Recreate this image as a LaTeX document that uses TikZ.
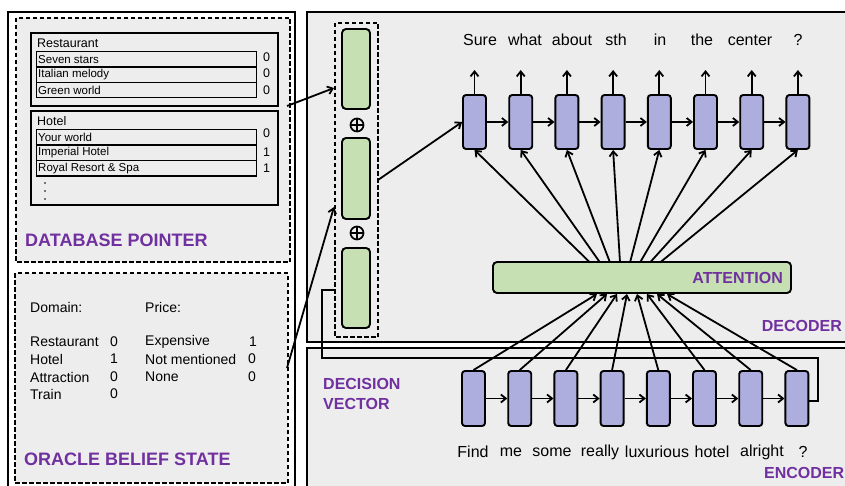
\documentclass[tikz,border=0pt]{standalone}
\usepackage{fontspec}
\setmainfont{Liberation Sans}
\usetikzlibrary{arrows.meta,calc}
\definecolor{bg}{HTML}{EDEDED}
\definecolor{cellc}{HTML}{AEAEDE}
\definecolor{grn}{HTML}{C6E0B4}
\definecolor{purp}{HTML}{7030A0}
\tikzset{
  panel/.style={draw, line width=2.2pt, fill=bg},
  dbox/.style={draw, line width=1.5pt, dash pattern=on 4.5pt off 2.5pt, fill=bg},
  cell/.style={draw, rounded corners=3pt, fill=cellc, line width=1.9pt, minimum width=23pt, minimum height=54pt, inner sep=0pt},
  gcell/.style={draw, rounded corners=4pt, fill=grn, line width=1.9pt, inner sep=0pt},
  arr/.style={-{Straight Barb[length=5pt,width=8pt]}, line width=1.8pt},
  plain/.style={line width=1.8pt},
  lbl/.style={text=purp, font=\bfseries\fontsize{16}{16}\selectfont, inner sep=0pt},
  biglbl/.style={text=purp, font=\bfseries\fontsize{18}{18}\selectfont, inner sep=0pt},
  word/.style={font=\fontsize{16}{16}\selectfont, inner sep=0pt},
  otxt/.style={font=\fontsize{14}{14}\selectfont, inner sep=0pt, anchor=west},
  hdr/.style={font=\fontsize{12.5}{12.5}\selectfont, inner sep=0pt, anchor=west},
  row/.style={draw, line width=1.3pt, minimum width=220pt, minimum height=15.3pt, inner sep=0pt, anchor=north west},
  rtxt/.style={font=\fontsize{11.5}{11.5}\selectfont, inner sep=0pt, anchor=west},
  box/.style={draw, line width=1.3pt},
  plus/.style={circle, draw, line width=1.7pt, minimum size=13pt, inner sep=0pt,
    path picture={\draw[line width=1.7pt] (path picture bounding box.north) -- (path picture bounding box.south)
      (path picture bounding box.west) -- (path picture bounding box.east);}},
}
\begin{document}
\begin{tikzpicture}[x=1pt,y=-1pt]
\useasboundingbox (0,0) rectangle (845,486);
\clip (0,0) rectangle (845,486);
\fill[white] (0,0) rectangle (845,486);
% ---------- panels ----------
\draw[panel, fill=white] (8,12) rectangle (295,500);
\draw[dbox] (16,18) rectangle (290,262);
\draw[dbox] (15,273) rectangle (288,483);
\draw[panel] (307,12) rectangle (860,342);
\draw[panel] (307,348) rectangle (860,500);
% ---------- database pointer ----------
\draw[box] (31,33) rectangle (278,106);
\node[hdr] (hrest) at (37,43) {Restaurant};
\node[row] (r1) at (36,51) {};
\node[row] (r2) at (36,66.3) {};
\node[row] (r3) at (36,81.6) {};
\node[rtxt] at ([xshift=2pt]r1.west) {Seven stars};
\node[rtxt] at ([xshift=2pt]r2.west) {Italian melody};
\node[rtxt] at ([xshift=2pt]r3.west) {Green world};
\node[hdr] at (263,57) {0};
\node[hdr] at (263,73) {0};
\node[hdr] at (263,90) {0};
\draw[box] (31,111) rectangle (278,205);
\node[hdr] (hhot) at (37,121) {Hotel};
\node[row] (h1) at (36,129) {};
\node[row] (h2) at (36,144.5) {};
\node[row] (h3) at (36,160) {};
\node[rtxt] at ([xshift=2pt]h1.west) {Your world};
\node[rtxt] at ([xshift=2pt]h2.west) {Imperial Hotel};
\node[rtxt] at ([xshift=2pt]h3.west) {Royal Resort \& Spa};
\node[hdr] at (263,133) {0};
\node[hdr] at (263,152) {1};
\node[hdr] at (263,168) {1};
\foreach \yy in {183,191,199} \fill (45,\yy) circle (0.8pt);
\node[biglbl, anchor=west] (dblbl) at (25,240) {DATABASE POINTER};
% ---------- oracle belief state ----------
\node[otxt] at (30,307) {Domain:};
\node[otxt] at (145,307) {Price:};
\node[otxt] at (30,342) {Restaurant};
\node[otxt] at (30,359) {Hotel};
\node[otxt] at (30,377) {Attraction};
\node[otxt] at (30,394) {Train};
\node[otxt] at (110,342) {0};
\node[otxt] at (110,359) {1};
\node[otxt] at (110,377) {0};
\node[otxt] at (110,394) {0};
\node[otxt] at (145,342) {Expensive};
\node[otxt] at (145,359) {Not mentioned};
\node[otxt] at (145,377) {None};
\node[otxt] at (249,342) {1};
\node[otxt] at (248,359) {0};
\node[otxt] at (248,377) {0};
\node[biglbl, anchor=west] (oblbl) at (24,459) {ORACLE BELIEF STATE};
% ---------- decision vector ----------
\draw[dbox] (335,23) rectangle (378,337);
\node[gcell, minimum width=28pt, minimum height=80pt] (g1) at (356,69) {};
\node[gcell, minimum width=28pt, minimum height=81pt] (g2) at (356,178.5) {};
\node[gcell, minimum width=28pt, minimum height=80pt] (g3) at (356,288) {};
\node[plus] (p1) at (357,125) {};
\node[plus] (p2) at (357,233) {};
\node[lbl, anchor=west] (dec1) at (323,384) {DECISION};
\node[lbl, anchor=west] (dec2) at (323,404) {VECTOR};
% ---------- decoder ----------
\foreach \i in {1,...,8} {
  \node[cell] (d\i) at ({474.5+46.2*(\i-1)},122) {};
  \coordinate (o\i) at ({474.5+46.2*(\i-1)},70);
  \draw[arr] (d\i.north) -- (o\i);
}
\node[word] (w1) at (480,40) {Sure};
\node[word] (w2) at (525,40) {what};
\node[word] (w3) at (572,40) {about};
\node[word] (w4) at (616,40) {sth};
\node[word] (w5) at (660,40) {in};
\node[word] (w6) at (702,40) {the};
\node[word] (w7) at (750,40) {center};
\node[word] (w8) at (798,40) {?};
\foreach \i [evaluate=\i as \j using int(\i+1)] in {1,...,7}
  \draw[arr] (d\i.east) -- (d\j.west);
% ---------- attention ----------
\node[gcell, minimum width=298pt, minimum height=31pt] (att) at (642,277.5) {};
\node[lbl, anchor=east] (attl) at (783,278) {ATTENTION};
\foreach \i in {1,...,8} {
  \coordinate (at\i) at ({590+10*(\i-1)},262.5);
  \draw[arr] (at\i) -- (d\i.south);
}
\node[lbl, anchor=east] (decl) at (842,326) {DECODER};
% ---------- encoder ----------
\foreach \i in {1,...,8} {
  \node[cell, minimum height=55pt] (e\i) at ({473.5+46.2*(\i-1)},398.5) {};
  \coordinate (ab\i) at ({597+10*(\i-1)},294);
  \draw[arr] (e\i.north) -- (ab\i);
}
\foreach \i [evaluate=\i as \j using int(\i+1)] in {1,...,7}
  \draw[arr] (e\i.east) -- (e\j.west);
\node[word] (f1) at (473,452) {Find};
\node[word] (f2) at (511,452) {me};
\node[word] (f3) at (552,452) {some};
\node[word] (f4) at (600,452) {really};
\node[word] (f5) at (657,452) {luxurious};
\node[word] (f6) at (712,452) {hotel};
\node[word] (f7) at (762,452) {alright};
\node[word] (f8) at (803,452) {?};
\node[lbl, anchor=west] (encl) at (764,473) {ENCODER};
% ---------- connectors ----------
\coordinate (dbout) at (287,106);
\coordinate (dvin1) at (334,88);
\coordinate (obout) at (287,368);
\coordinate (dvin2) at (334,207);
\coordinate (dvout) at (378,180);
\draw[arr] (dbout) -- (dvin1);
\draw[arr] (obout) -- (dvin2);
\draw[arr] (dvout) -- (d1.west);
\coordinate (dvin3) at (335,290);
\draw[plain] (e8.east |- 0,401) -| (818,358) -| (322,290) -- (dvin3);
\end{tikzpicture}
\end{document}
